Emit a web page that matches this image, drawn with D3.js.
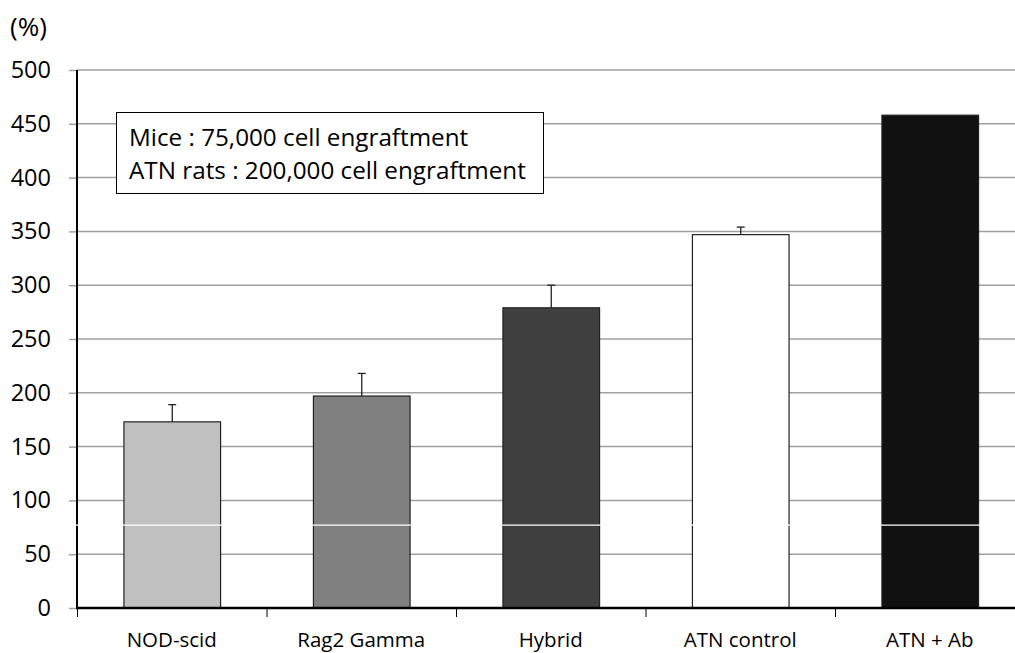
<!DOCTYPE html>
<html><head><meta charset="utf-8">
<script src="https://cdn.jsdelivr.net/npm/d3@7"></script>
<style>body{margin:0;background:#fff;}svg{display:block;}</style>
</head><body>
<svg id="c" width="1015" height="653"></svg>
<script>
const categories = ["NOD-scid", "Rag2 Gamma", "Hybrid", "ATN control", "ATN + Ab"];
const values = [173, 197, 279, 347, 458];
const errors = [16, 21, 21, 7, 0];
const fills = ["#c0c0c0", "#808080", "#404040", "#ffffff", "#111111"];
const yTicks = [0, 50, 100, 150, 200, 250, 300, 350, 400, 450, 500];
const legendLines = ["Mice : 75,000 cell engraftment", "ATN rats : 200,000 cell engraftment"];
const markerValue = 77;

const font = "'Open Sans', sans-serif";
const svg = d3.select("#c");
const x0 = 77, x1 = 1024.5, yTop = 70, yBot = 608;
const x = d3.scaleBand().domain(categories).range([x0, x1]).paddingInner(0.49).paddingOuter(0.245);
const y = d3.scaleLinear().domain([0, 500]).range([yBot, yTop]);

// gridlines
svg.append("g").selectAll("line").data(yTicks.filter(d => d > 0)).join("line")
  .attr("x1", x0).attr("x2", 1015).attr("y1", d => y(d)).attr("y2", d => y(d))
  .attr("stroke", "#a0a0a0").attr("stroke-width", 1.5);

// y-axis
const yAxis = d3.axisLeft(y).tickValues(yTicks).tickSize(8).tickPadding(18);
const gy = svg.append("g").attr("transform", `translate(${x0},0)`).call(yAxis);
gy.select(".domain").remove();
gy.selectAll(".tick line").attr("stroke", "#a0a0a0").attr("stroke-width", 1.5);
gy.selectAll(".tick text").attr("font-family", font).attr("font-size", 23.5).attr("fill", "#000");
svg.append("line").attr("x1", x0).attr("x2", x0).attr("y1", yTop).attr("y2", yBot)
  .attr("stroke", "#000").attr("stroke-width", 2);

// bars
svg.append("g").selectAll("rect").data(categories).join("rect")
  .attr("x", d => x(d) + 0.5).attr("width", x.bandwidth())
  .attr("y", (d, i) => y(values[i])).attr("height", (d, i) => y(0) - y(values[i]))
  .attr("fill", (d, i) => fills[i]).attr("stroke", "#222").attr("stroke-width", 1.2);

// error bars
const eg = svg.append("g").attr("stroke", "#222").attr("stroke-width", 1.3);
categories.forEach((c, i) => {
  if (!errors[i]) return;
  const cx = x(c) + x.bandwidth() / 2 + 0.5;
  eg.append("line").attr("x1", cx).attr("x2", cx).attr("y1", y(values[i])).attr("y2", y(values[i] + errors[i]));
  eg.append("line").attr("x1", cx - 4).attr("x2", cx + 4).attr("y1", y(values[i] + errors[i])).attr("y2", y(values[i] + errors[i]));
});

// white marker line
svg.append("line").attr("x1", x0 - 1.5).attr("x2", 1015).attr("y1", y(markerValue)).attr("y2", y(markerValue))
  .attr("stroke", "#fff").attr("stroke-width", 1.2);

// x-axis
const step = x.step();
const xAxis = d3.axisBottom(x).tickSize(0).tickPadding(24);
const gx = svg.append("g").attr("transform", `translate(0,${yBot})`).call(xAxis);
gx.select(".domain").remove();
gx.selectAll(".tick text").attr("font-family", font).attr("font-size", 20.5).attr("fill", "#000");
svg.append("g").selectAll("line").data(d3.range(5)).join("line")
  .attr("x1", i => x0 + i * step + 0.5).attr("x2", i => x0 + i * step + 0.5)
  .attr("y1", yBot).attr("y2", yBot + 9).attr("stroke", "#000").attr("stroke-width", 1);
svg.append("line").attr("x1", x0 - 1).attr("x2", 1015).attr("y1", yBot).attr("y2", yBot)
  .attr("stroke", "#000").attr("stroke-width", 2.5);

// legend box
svg.append("rect").attr("x", 116.5).attr("y", 112.5).attr("width", 427).attr("height", 81)
  .attr("fill", "#fff").attr("stroke", "#000").attr("stroke-width", 1);
const lt = svg.append("g").selectAll("text").data(legendLines).join("text")
  .attr("x", 129).attr("y", (d, i) => 146 + i * 33)
  .attr("font-family", font).attr("font-size", 21).attr("fill", "#000").text(d => d);
const longest = lt.filter((d, i) => i === 1).node();
const k = 397 / longest.getComputedTextLength();
lt.attr("font-size", (21 * k).toFixed(2));

// unit label
svg.append("text").attr("x", 10).attr("y", 36).attr("font-family", font).attr("font-size", 26).text("(%)");
</script>
</body></html>
